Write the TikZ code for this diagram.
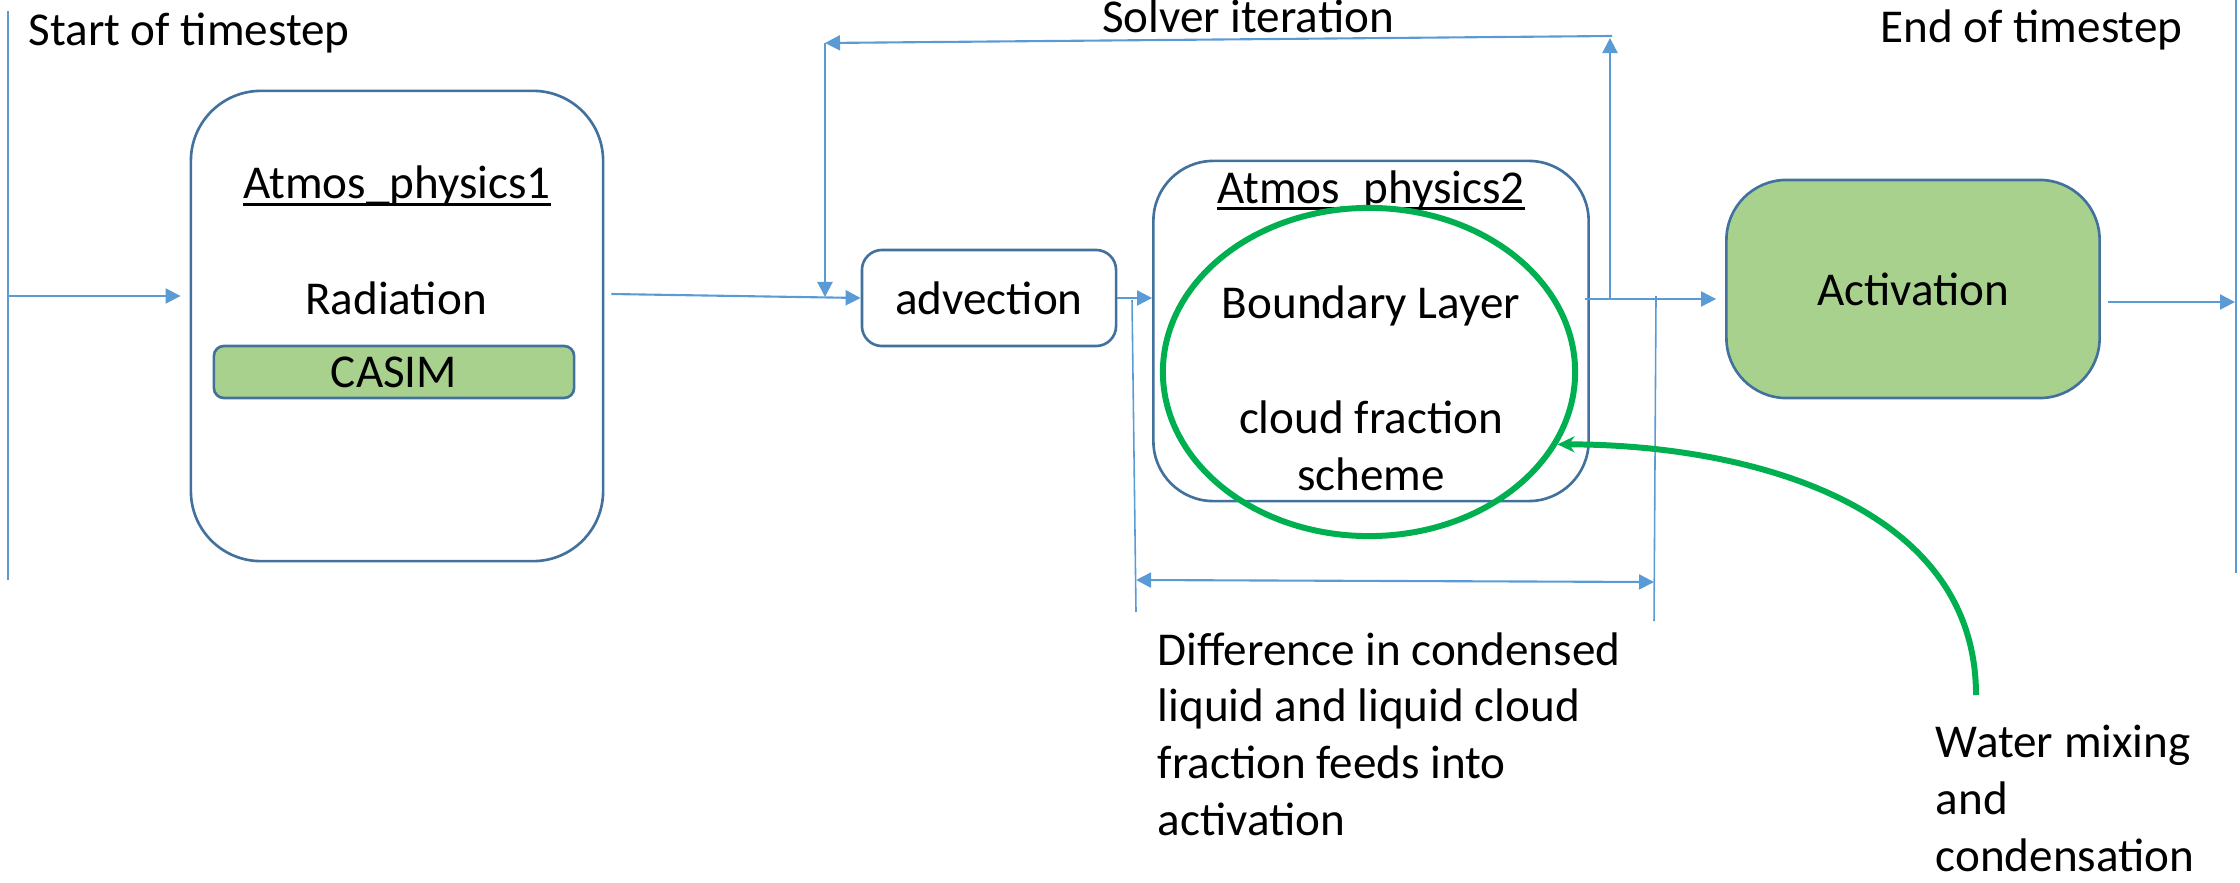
\documentclass[tikz,border=0pt]{standalone}
\usepackage{fontspec}
\setmainfont{Carlito}
\usetikzlibrary{arrows.meta,positioning,shapes.geometric}
\definecolor{linkblue}{RGB}{91,155,213}
\definecolor{edgeblue}{RGB}{65,113,156}
\definecolor{physgreen}{RGB}{169,209,142}
\definecolor{ringgreen}{RGB}{0,176,80}
\newcommand{\ulbox}[1]{\setbox0=\hbox{#1}\rlap{\rule[-2.1pt]{\wd0}{0.85pt}}\box0}

\begin{document}
\begin{tikzpicture}[x=0.01cm, y=-0.01cm,
    font=\fontsize{13.4}{16.1}\selectfont,
    block/.style={rectangle, draw=edgeblue, line width=0.75pt, rounded corners=#1, inner sep=0pt},
    block/.default=0.6cm,
    txt/.style={inner sep=0pt},
    ring/.style={ellipse, draw=ringgreen, line width=1.7pt, inner sep=0pt},
    arr/.style={-{Triangle[length=0.15cm,width=0.15cm]}, draw=linkblue, fill=linkblue, line width=0.6pt},
    darr/.style={{Triangle[length=0.15cm,width=0.15cm]}-{Triangle[length=0.15cm,width=0.15cm]}, draw=linkblue, fill=linkblue, line width=0.6pt},
    guide/.style={draw=linkblue, line width=0.45pt},
    greenarr/.style={-{Stealth[length=0.17cm,width=0.16cm]}, draw=ringgreen, line width=1.7pt}]
    \useasboundingbox (0,0) rectangle (2240,882);

    % boxes
    \node[block=0.7cm, minimum width=4.12cm, minimum height=4.70cm] (phys1) at (397,326) {};
    \node[txt, anchor=base] (title1) at (397,199) {\ulbox{Atmos\_physics1}};
    \node[txt, anchor=base] (rad) at (396,314) {Radiation};
    \node[block=0.1cm, fill=physgreen, minimum width=3.60cm, minimum height=0.52cm] (casim) at (394,372) {CASIM};
    \node[block=0.2cm, minimum width=2.54cm, minimum height=0.96cm] (adv) at (989,298) {advection};
    \node[block, minimum width=4.35cm, minimum height=3.40cm] (phys2) at (1371,331) {};
    \node[txt, anchor=base] (title2) at (1371,203) {\ulbox{Atmos\_physics2}};
    \node[txt, anchor=base] (bl) at (1371,318) {Boundary Layer};
    \node[txt, anchor=base, align=center] (cfs) at (1371,490) {cloud fraction\\scheme};
    \node[ring, minimum width=4.12cm, minimum height=3.28cm] (ring) at (1369,372) {};
    \node[block, fill=physgreen, minimum width=3.73cm, minimum height=2.18cm] (act) at (1913,289) {Activation};

    % texts
    \node[txt, anchor=base west] (start) at (28,46) {Start of timestep};
    \node[txt, anchor=base west] (end) at (1880,43) {End of timestep};
    \node[txt, anchor=base] (solver) at (1248,33) {Solver iteration};
    \node[txt, anchor=base west, align=left] (diff) at (1157,835) {Difference in condensed\\liquid and liquid cloud\\fraction feeds into\\activation};
    \node[txt, anchor=base west, align=left] (water) at (1935,871) {Water mixing\\and\\condensation};

    % timestep lines
    \coordinate (t0top) at (8,11);
    \coordinate (t0bot) at (8,580);
    \coordinate (t0mid) at (8,296);
    \coordinate (t1top) at (2236,0);
    \coordinate (t1bot) at (2236,573);
    \coordinate (t1mid) at (2235,302);
    \draw[guide] (t0top) -- (t0bot);
    \draw[guide] (t1top) -- (t1bot);

    % main flow
    \draw[arr, shorten >=0.09cm] (t0mid) -- (t0mid -| phys1.west);
    \draw[arr] ([shift={(7,-32)}]phys1.east) -- (adv.west);
    \draw[arr] (adv.east) -- (adv.east -| phys2.west);
    \coordinate (loopA) at (1610,299);
    \coordinate (loopB) at (1610,38);
    \coordinate (loopC) at (825,43);
    \coordinate (loopD) at (825,297);
    \draw[arr, shorten <=-0.05cm, shorten >=0.09cm] (loopA -| phys2.east) -- (loopA -| act.west);
    \draw[arr, shorten <=0.07cm] (act.east |- t1mid) -- (t1mid);

    % solver iteration loop
    \draw[arr] (loopA) -- (loopB);
    \draw[arr] (1612,36) -- (loopC);
    \draw[arr] (loopC) -- (loopD);

    % difference markers
    \coordinate (d0top) at (1132,300);
    \coordinate (d0bot) at (1136,612);
    \coordinate (d1top) at (1656,296);
    \coordinate (d1bot) at (1654,621);
    \draw[guide] (d0top) -- (d0bot);
    \draw[guide] (d1top) -- (d1bot);
    \draw[darr] (d0bot |- 0,580) -- (d1bot |- 0,582);

    % water mixing
    \coordinate (wmtop) at (1976,695);
    \draw[greenarr] (wmtop) to[out=90, in=0] (ring.-21);
\end{tikzpicture}
\end{document}
